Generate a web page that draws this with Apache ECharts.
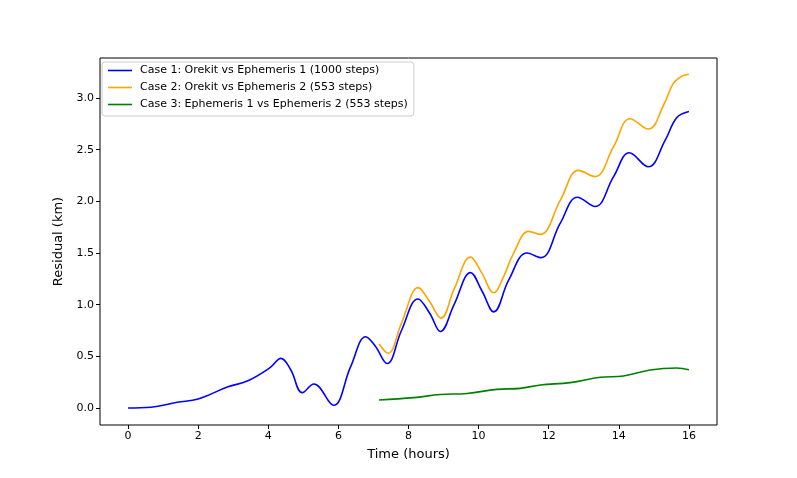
<!DOCTYPE html>
<html>
<head>
<meta charset="utf-8">
<script src="https://cdn.jsdelivr.net/npm/echarts@6/dist/echarts.min.js"></script>
<style>html,body{margin:0;padding:0;background:#fff;}#c{width:797px;height:478px;}</style>
</head>
<body>
<div id="c"></div>
<script>
const seriesNames = [
  'Case 1: Orekit vs Ephemeris 1 (1000 steps)',
  'Case 2: Orekit vs Ephemeris 2 (553 steps)',
  'Case 3: Ephemeris 1 vs Ephemeris 2 (553 steps)'
];
const case1 = [[0,0],[0.65,0.007],[1.4,0.055],[2.0,0.087],[2.85,0.205],[3.4,0.26],[4.05,0.39],[4.36,0.48],[4.64,0.37],[4.97,0.148],[5.3,0.232],[5.86,0.026],[6.35,0.40],[6.78,0.69],[7.05,0.6],[7.39,0.43],[7.8,0.75],[8.27,1.055],[8.6,0.92],[8.91,0.74],[9.3,1.0],[9.77,1.31],[10.1,1.13],[10.43,0.93],[10.86,1.24],[11.38,1.50],[11.78,1.455],[12.33,1.79],[12.82,2.04],[13.32,1.95],[13.85,2.24],[14.30,2.47],[14.84,2.335],[15.32,2.59],[15.65,2.81],[16.0,2.87]];
const case2 = [[7.16,0.62],[7.42,0.53],[7.8,0.82],[8.28,1.165],[8.6,1.03],[8.93,0.87],[9.3,1.15],[9.77,1.46],[10.1,1.3],[10.43,1.115],[10.71,1.27],[11.0,1.5],[11.43,1.71],[11.76,1.68],[12.33,2.01],[12.85,2.30],[13.32,2.24],[13.85,2.53],[14.32,2.80],[14.84,2.70],[15.3,2.95],[15.55,3.14],[15.79,3.21],[16.0,3.23]];
const case3 = [[7.16,0.077],[8.15,0.10],[8.91,0.13],[9.67,0.14],[10.52,0.18],[11.19,0.19],[11.76,0.223],[12.61,0.245],[13.47,0.297],[14.13,0.31],[14.89,0.368],[15.65,0.387],[16.0,0.37]];
const xTicks = [0,2,4,6,8,10,12,14,16];
const yTicks = [0,0.5,1.0,1.5,2.0,2.5,3.0];
const colors = ['#0000ff','#ffa500','#008000'];

const chart = echarts.init(document.getElementById('c'), null, {renderer:'canvas'});
const font = 'DejaVu Sans';
chart.setOption({
  animation:false,
  backgroundColor:'#fff',
  grid:{left:100,right:80,top:58,bottom:53,show:true,borderColor:'#000',borderWidth:1,backgroundColor:'transparent'},
  legend:{
    left:102, top:62, orient:'vertical', icon:'rect',
    itemWidth:24, itemHeight:1.6, itemGap:6,
    padding:[3,6,6,6],
    borderColor:'#cccccc', borderWidth:1, borderRadius:3, backgroundColor:'rgba(255,255,255,0.8)',
    textStyle:{fontFamily:font,fontSize:11,color:'#000',padding:[0,0,0,3]},
    data:seriesNames
  },
  xAxis:{
    type:'value', min:-0.8, max:16.8,
    name:'Time (hours)', nameLocation:'middle', nameGap:23,
    nameTextStyle:{fontFamily:font,fontSize:13,color:'#000'},
    axisLine:{show:false,onZero:false},
    splitLine:{show:false},
    axisTick:{show:true,inside:false,length:4,lineStyle:{color:'#000',width:1},customValues:xTicks},
    axisLabel:{show:true,fontFamily:font,fontSize:11,color:'#000',margin:6,customValues:xTicks,formatter:v=>String(v)}
  },
  yAxis:{
    type:'value', min:-0.165, max:3.388,
    name:'Residual (km)', nameLocation:'middle', nameGap:29, nameRotate:90,
    nameTextStyle:{fontFamily:font,fontSize:13,color:'#000'},
    axisLine:{show:false,onZero:false},
    splitLine:{show:false},
    axisTick:{show:true,inside:false,length:4,lineStyle:{color:'#000',width:1},customValues:yTicks},
    axisLabel:{show:true,fontFamily:font,fontSize:11,color:'#000',margin:6,customValues:yTicks,formatter:v=>v.toFixed(1)}
  },
  series:[case1,case2,case3].map((d,i)=>({
    name:seriesNames[i], type:'line', data:d, smooth:0.4, symbol:'none',
    lineStyle:{color:colors[i],width:1.6}, itemStyle:{color:colors[i]}, z:2+i
  }))
});
</script>
</body>
</html>
